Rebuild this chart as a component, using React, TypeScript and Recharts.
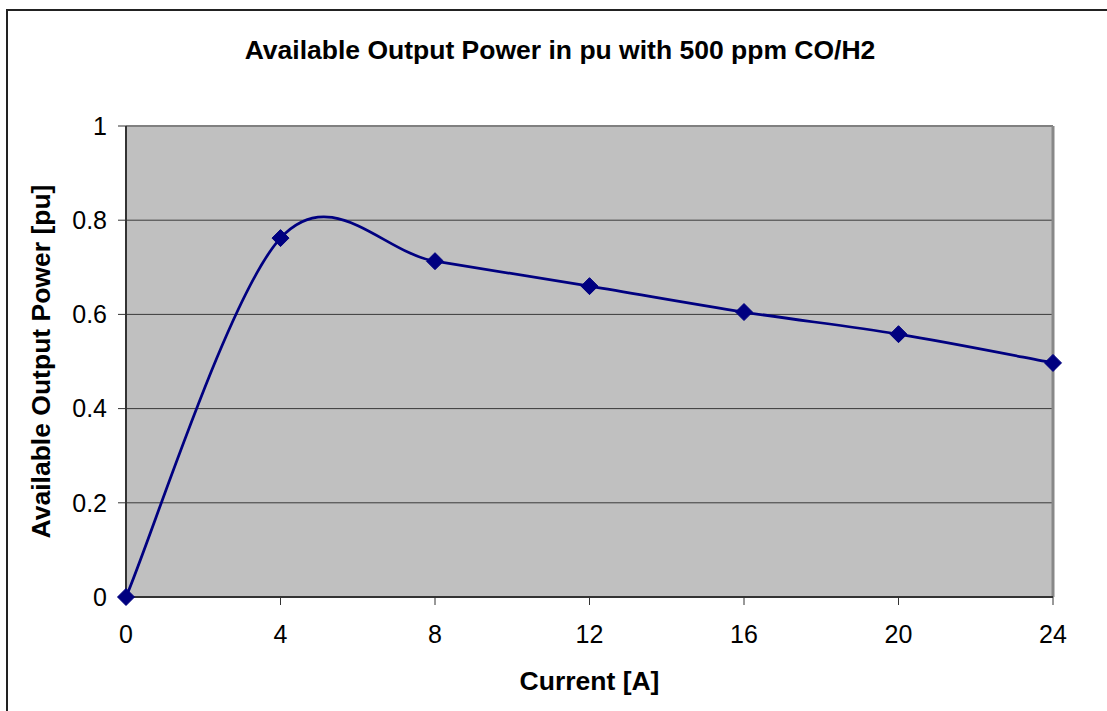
import { LineChart, Line, XAxis, YAxis, CartesianGrid, ReferenceLine, Label } from 'recharts';

const currents = [0, 4, 8, 12, 16, 20, 24];
const powerPu = [0, 0.762, 0.713, 0.66, 0.605, 0.558, 0.497];
const xTicks = [0, 4, 8, 12, 16, 20, 24];
const yTicks = [0, 0.2, 0.4, 0.6, 0.8, 1];

const data = currents.map((c, i) => ({ current: c, power: powerPu[i] }));

const FONT = '"Liberation Sans", Arial, sans-serif';

// Excel-like smoothed line (Catmull-Rom style bezier segments)
const excelSmooth = (context: any) => {
  let pts: [number, number][] = [];
  return {
    areaStart() {},
    areaEnd() {},
    lineStart() {
      pts = [];
    },
    point(x: number, y: number) {
      pts.push([+x, +y]);
    },
    lineEnd() {
      if (!pts.length) return;
      context.moveTo(pts[0][0], pts[0][1]);
      for (let i = 0; i < pts.length - 1; i++) {
        const p0 = pts[Math.max(i - 1, 0)];
        const p1 = pts[i];
        const p2 = pts[i + 1];
        const p3 = pts[Math.min(i + 2, pts.length - 1)];
        context.bezierCurveTo(
          p1[0] + (p2[0] - p0[0]) / 6,
          p1[1] + (p2[1] - p0[1]) / 6,
          p2[0] - (p3[0] - p1[0]) / 6,
          p2[1] - (p3[1] - p1[1]) / 6,
          p2[0],
          p2[1]
        );
      }
    },
  };
};

const Diamond = (props: any) => {
  const { cx, cy } = props;
  if (cx == null || cy == null) return null;
  const r = 8.5;
  return (
    <polygon
      points={`${cx},${cy - r} ${cx + r},${cy} ${cx},${cy + r} ${cx - r},${cy}`}
      fill="#000080"
      stroke="#000080"
    />
  );
};

export default function App() {
  return (
    <div style={{ position: 'absolute', left: 0, top: 0, width: 1107, height: 711, background: '#fff', fontFamily: FONT }}>
      <div
        style={{
          position: 'absolute',
          left: 6,
          top: 9,
          right: -10,
          bottom: -10,
          borderTop: '2px solid #222',
          borderLeft: '2px solid #222',
        }}
      />
      <div
        style={{
          position: 'absolute',
          left: 0,
          width: 1120,
          top: 34,
          textAlign: 'center',
          fontSize: 26.5,
          fontWeight: 'bold',
          color: '#000',
          lineHeight: '32px',
        }}
      >
        Available Output Power in pu with 500 ppm CO/H2
      </div>
      <div style={{ position: 'absolute', left: 0, top: 0 }}>
        <LineChart
          width={1107}
          height={711}
          data={data}
          margin={{ top: 126, right: 54, left: 0, bottom: 0 }}
        >
          <CartesianGrid
            horizontal
            vertical={false}
            fill="#C0C0C0"
            fillOpacity={1}
            stroke="#3a3a3a"
            strokeWidth={1}
          />
          <XAxis
            dataKey="current"
            type="number"
            domain={[0, 24]}
            ticks={xTicks}
            height={114}
            tickSize={8}
            tickMargin={20}
            axisLine={{ stroke: '#333', strokeWidth: 2 }}
            tickLine={{ stroke: '#333', strokeWidth: 1 }}
            tick={{ fill: '#000', fontSize: 25, fontFamily: FONT }}
            interval={0}
          >
            <Label
              content={({ viewBox }: any) => (
                <text
                  x={viewBox.x + viewBox.width / 2}
                  y={690}
                  textAnchor="middle"
                  fontSize={26.5}
                  fontWeight="bold"
                  fontFamily={FONT}
                  fill="#000"
                >
                  Current [A]
                </text>
              )}
            />
          </XAxis>
          <YAxis
            type="number"
            domain={[0, 1]}
            ticks={yTicks}
            width={126}
            tickSize={8}
            tickMargin={11}
            axisLine={{ stroke: '#333', strokeWidth: 2 }}
            tickLine={{ stroke: '#333', strokeWidth: 1 }}
            tick={{ fill: '#000', fontSize: 25, fontFamily: FONT }}
            interval={0}
          >
            <Label
              content={({ viewBox }: any) => {
                const cx = 50;
                const cy = viewBox.y + viewBox.height / 2;
                return (
                  <text
                    x={cx}
                    y={cy}
                    transform={`rotate(-90 ${cx} ${cy})`}
                    textAnchor="middle"
                    fontSize={26.5}
                    fontWeight="bold"
                    fontFamily={FONT}
                    fill="#000"
                  >
                    Available Output Power [pu]
                  </text>
                );
              }}
            />
          </YAxis>
          <ReferenceLine y={1} stroke="#808080" strokeWidth={2} />
          <ReferenceLine x={24} stroke="#888" strokeWidth={3} />
          <Line
            dataKey="power"
            type={excelSmooth as any}
            stroke="#000080"
            strokeWidth={2.75}
            dot={<Diamond />}
            activeDot={false}
            isAnimationActive={false}
          />
        </LineChart>
      </div>
    </div>
  );
}
